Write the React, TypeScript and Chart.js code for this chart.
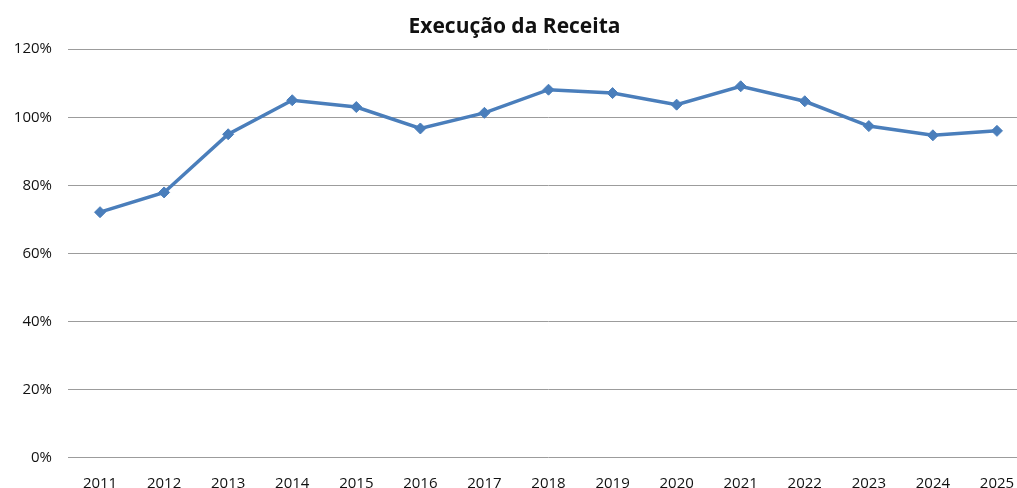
import React, { useEffect, useRef } from "react";
import { Chart, registerables } from "chart.js";

Chart.register(...registerables);

const years = ["2011", "2012", "2013", "2014", "2015", "2016", "2017", "2018", "2019", "2020", "2021", "2022", "2023", "2024", "2025"];
const execucao = [72.1, 77.9, 95.0, 105.0, 103.0, 96.7, 101.3, 108.1, 107.1, 103.7, 109.1, 104.7, 97.4, 94.7, 96.0];
const titleText = "Execução da Receita";

export default function App() {
  const ref = useRef<HTMLCanvasElement | null>(null);
  useEffect(() => {
    if (!ref.current) return;
    const font = "'Open Sans', sans-serif";
    const chart = new Chart(ref.current, {
      type: "line",
      data: {
        labels: years,
        datasets: [
          {
            data: execucao,
            borderColor: "#4A7EBB",
            backgroundColor: "#4A7EBB",
            borderWidth: 3.5,
            pointStyle: "rectRot",
            pointRadius: 5.5,
            pointBorderWidth: 1,
            tension: 0,
          },
        ],
      },
      options: {
        responsive: false,
        animation: false,
        layout: { padding: { left: 0, right: 11, top: 0, bottom: 0 } },
        plugins: {
          legend: { display: false },
          tooltip: { enabled: false },
          title: {
            display: true,
            text: titleText,
            color: "#111",
            font: { family: font, size: 21, weight: "bold", lineHeight: 1.2 },
            padding: { top: 14, bottom: 10 },
          },
        },
        scales: {
          x: {
            offset: true,
            grid: { display: false, drawTicks: false },
            border: { display: false },
            ticks: { color: "#111", font: { family: font, size: 15 }, padding: 17, maxRotation: 0, autoSkip: false },
            afterFit: (s: any) => { s.height = 30.5; },
          },
          y: {
            min: 0,
            max: 120,
            grid: { color: "#9c9c9c", lineWidth: 1, drawTicks: false },
            border: { display: false },
            ticks: {
              stepSize: 20,
              color: "#111",
              font: { family: font, size: 15 },
              padding: 16,
              callback: (v: any) => v + "%",
            },
            afterFit: (s: any) => { s.width = 68; },
          },
        },
      },
    });
    return () => chart.destroy();
  }, []);
  return (
    <div style={{ position: "fixed", left: 0, top: 0, width: 1017, height: 488, overflow: "hidden", background: "#fff" }}>
      <canvas ref={ref} width={1040} height={488} style={{ display: "block" }} />
    </div>
  );
}
